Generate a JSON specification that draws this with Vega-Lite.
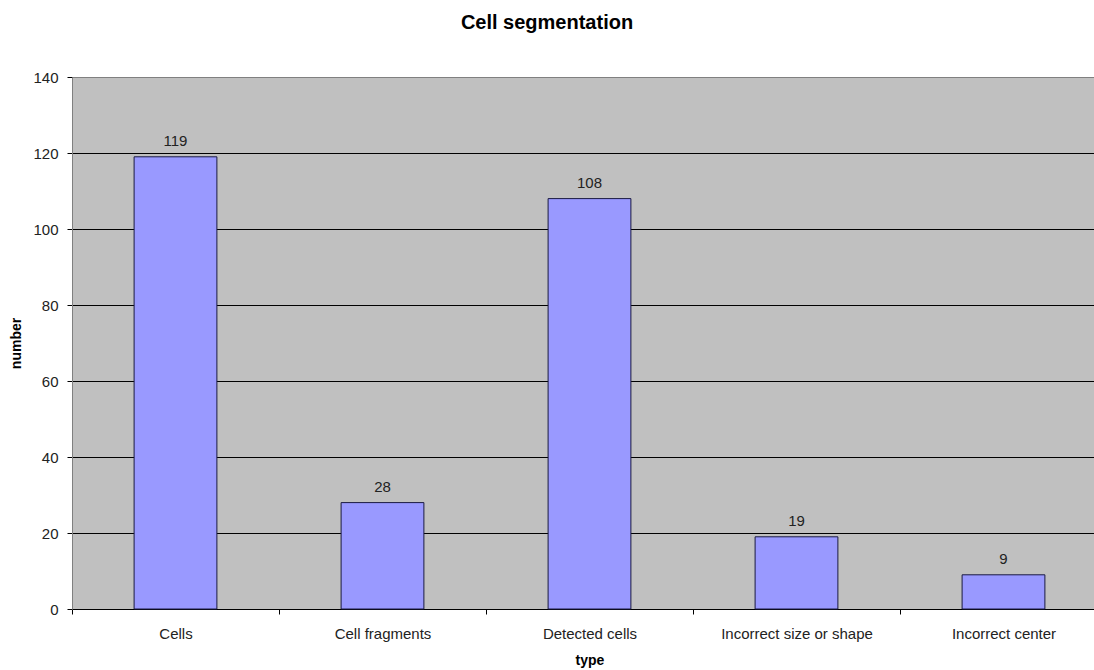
{
  "$schema": "https://vega.github.io/schema/vega-lite/v6.json",
  "autosize": {"type": "none"},
  "padding": {"left": 72, "top": 77, "right": 0, "bottom": 61},
  "width": 1022,
  "height": 532,
  "background": "white",
  "title": {
    "text": "Cell segmentation",
    "font": "Liberation Sans",
    "fontSize": 20,
    "fontWeight": "bold",
    "color": "#000",
    "anchor": "middle",
    "dx": -36,
    "offset": 37
  },
  "config": {
    "view": {"fill": "#C0C0C0", "stroke": "#808080", "strokeWidth": 1},
    "font": "Liberation Sans"
  },
  "data": {
    "values": [
      {"type": "Cells", "number": 119},
      {"type": "Cell fragments", "number": 28},
      {"type": "Detected cells", "number": 108},
      {"type": "Incorrect size or shape", "number": 19},
      {"type": "Incorrect center", "number": 9}
    ]
  },
  "encoding": {
    "x": {
      "field": "type",
      "type": "nominal",
      "sort": null,
      "scale": {"range": [0, 1035], "paddingInner": 0, "paddingOuter": 0},
      "axis": {
        "title": "type",
        "titleFont": "Liberation Sans",
        "titleFontSize": 14,
        "titleFontWeight": "bold",
        "titleColor": "#000",
        "titlePadding": 12,
        "labelAngle": 0,
        "labelFontSize": 15,
        "labelColor": "#222",
        "labelPadding": 12,
        "tickBand": "extent",
        "tickSize": 5,
        "tickColor": "#000",
        "domainColor": "#000",
        "grid": false
      }
    },
    "y": {
      "field": "number",
      "type": "quantitative",
      "scale": {"domain": [0, 140], "nice": false},
      "axis": {
        "title": "number",
        "titleFont": "Liberation Sans",
        "titleFontSize": 14,
        "titleFontWeight": "bold",
        "titleColor": "#000",
        "titlePadding": 9,
        "values": [0, 20, 40, 60, 80, 100, 120, 140],
        "labelFontSize": 15,
        "labelColor": "#222",
        "labelPadding": 9,
        "tickSize": 5,
        "tickColor": "#000",
        "domainColor": "#808080",
        "grid": true,
        "gridColor": "#000",
        "gridOpacity": {"condition": {"test": "datum.value == 140 || datum.value == 0", "value": 0}, "value": 1}
      }
    }
  },
  "layer": [
    {
      "mark": {"type": "bar", "width": {"band": 0.4}, "fill": "#9999FF", "stroke": "#1a1a40", "strokeWidth": 1}
    },
    {
      "mark": {"type": "text", "baseline": "bottom", "dy": -8, "fontSize": 15, "color": "#222", "font": "Liberation Sans"},
      "encoding": {"text": {"field": "number", "type": "quantitative"}}
    }
  ]
}
